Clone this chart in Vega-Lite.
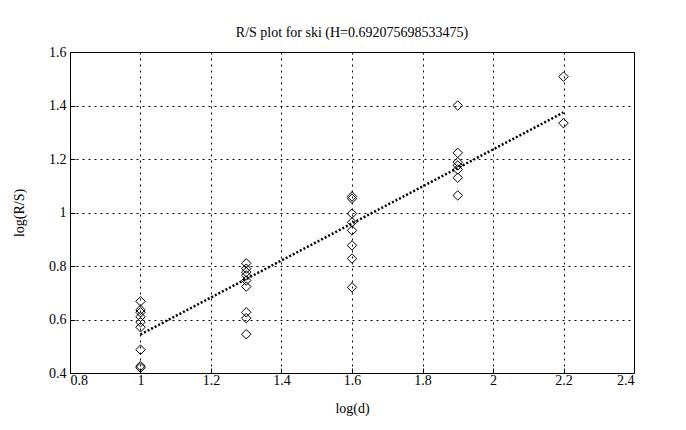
{
  "$schema": "https://vega.github.io/schema/vega-lite/v6.json",
  "width": 564,
  "height": 321,
  "autosize": "none",
  "padding": {"left": 70, "top": 52, "right": 52, "bottom": 57},
  "background": "white",
  "title": {"text": "R/S plot for ski (H=0.692075698533475)", "font": "Liberation Serif", "fontSize": 14, "fontWeight": "normal", "color": "black", "offset": 5},
  "config": {
    "view": {"stroke": "black", "strokeWidth": 1},
    "axis": {
      "labelFont": "Liberation Serif", "labelFontSize": 14, "labelColor": "black",
      "titleFont": "Liberation Serif", "titleFontSize": 14, "titleFontWeight": "normal", "titleColor": "black",
      "grid": true, "gridColor": "black", "gridDash": [2, 4], "gridOpacity": 1, "gridWidth": 1,
      "domain": false, "tickColor": "black", "tickSize": -5
    }
  },
  "datasets": {
    "pts": [
      {"d": 1, "rs": 0.668}, {"d": 1, "rs": 0.636}, {"d": 1, "rs": 0.627}, {"d": 1, "rs": 0.61}, {"d": 1, "rs": 0.59}, {"d": 1, "rs": 0.571}, {"d": 1, "rs": 0.487}, {"d": 1, "rs": 0.426}, {"d": 1, "rs": 0.42},
      {"d": 1.3, "rs": 0.81}, {"d": 1.3, "rs": 0.79}, {"d": 1.3, "rs": 0.777}, {"d": 1.3, "rs": 0.765}, {"d": 1.3, "rs": 0.746}, {"d": 1.3, "rs": 0.723}, {"d": 1.3, "rs": 0.627}, {"d": 1.3, "rs": 0.605}, {"d": 1.3, "rs": 0.545},
      {"d": 1.6, "rs": 1.06}, {"d": 1.6, "rs": 1.052}, {"d": 1.6, "rs": 0.996}, {"d": 1.6, "rs": 0.963}, {"d": 1.6, "rs": 0.933}, {"d": 1.6, "rs": 0.877}, {"d": 1.6, "rs": 0.828}, {"d": 1.6, "rs": 0.72},
      {"d": 1.9, "rs": 1.40}, {"d": 1.9, "rs": 1.223}, {"d": 1.9, "rs": 1.188}, {"d": 1.9, "rs": 1.176}, {"d": 1.9, "rs": 1.161}, {"d": 1.9, "rs": 1.13}, {"d": 1.9, "rs": 1.064},
      {"d": 2.2, "rs": 1.508}, {"d": 2.2, "rs": 1.334}
    ],
    "fit": [{"d": 1, "rs": 0.544}, {"d": 2.2, "rs": 1.374}]
  },
  "layer": [
    {
      "data": {"name": "fit"},
      "mark": {"type": "line", "color": "black", "strokeWidth": 2.5, "strokeDash": [2, 2]},
      "encoding": {
        "x": {"field": "d", "type": "quantitative", "scale": {"domain": [0.8, 2.4], "nice": false, "zero": false},
              "axis": {"title": "log(d)", "values": [0.8, 1, 1.2, 1.4, 1.6, 1.8, 2, 2.2, 2.4], "format": "~g", "labelPadding": 5, "titlePadding": 14}},
        "y": {"field": "rs", "type": "quantitative", "scale": {"domain": [0.4, 1.6], "nice": false, "zero": false},
              "axis": {"title": "log(R/S)", "values": [0.4, 0.6, 0.8, 1, 1.2, 1.4, 1.6], "format": "~g", "labelPadding": 9, "titlePadding": 22}}
      }
    },
    {
      "data": {"name": "pts"},
      "mark": {"type": "point", "shape": "diamond", "filled": false, "color": "black", "strokeWidth": 1, "size": 90, "opacity": 1},
      "encoding": {
        "x": {"field": "d", "type": "quantitative"},
        "y": {"field": "rs", "type": "quantitative"}
      }
    }
  ]
}
